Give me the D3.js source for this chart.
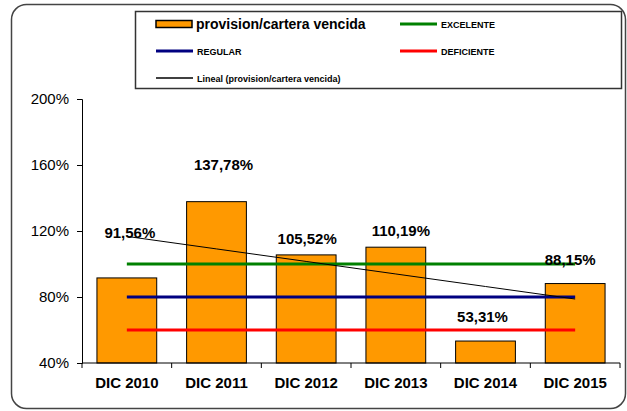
<!DOCTYPE html>
<html>
<head>
<meta charset="utf-8">
<script src="https://cdn.jsdelivr.net/npm/d3@7"></script>
<style>
  body { margin: 0; background: #fff; }
  svg { font-family: "Liberation Sans", Arial, sans-serif; }
</style>
</head>
<body>
<script>
// datos
const categories = ["DIC 2010", "DIC 2011", "DIC 2012", "DIC 2013", "DIC 2014", "DIC 2015"];
const provision = [91.56, 137.78, 105.52, 110.19, 53.31, 88.15];
const excelente = [100, 100, 100, 100, 100, 100];
const regular = [80, 80, 80, 80, 80, 80];
const deficiente = [60, 60, 60, 60, 60, 60];
const yTicks = [40, 80, 120, 160, 200];

// desplazamiento manual de las etiquetas (como en el grafico original)
const labelShift = [[3, -40], [7, -32], [1, -11], [5, -11], [-3, -19], [-5, -19]];

const width = 627;
const height = 411;
const margin = { top: 99, right: 7, bottom: 48, left: 82 };

const svg = d3.select("body").append("svg")
  .attr("width", width)
  .attr("height", height);

// marco exterior
svg.append("rect")
  .attr("x", 11.5).attr("y", 4.5)
  .attr("width", 614).attr("height", 404)
  .attr("rx", 15)
  .attr("fill", "none")
  .attr("stroke", "#444")
  .attr("stroke-width", 1.5);

const x = d3.scaleBand()
  .domain(categories)
  .range([margin.left, width - margin.right])
  .paddingInner(1 / 3)
  .paddingOuter(1 / 6);

const y = d3.scaleLinear()
  .domain([40, 200])
  .range([height - margin.bottom, margin.top]);

const g = svg.append("g");

// eje Y
g.append("g")
  .attr("transform", `translate(${margin.left},0)`)
  .call(d3.axisLeft(y).tickValues(yTicks).tickSize(5).tickPadding(8).tickFormat(d => d + "%"))
  .call(a => a.select(".domain").attr("stroke", "#000"))
  .call(a => a.selectAll("text").attr("font-size", 15).attr("fill", "#000").attr("font-family", "Liberation Sans, Arial"));

// barras
g.selectAll(".bar")
  .data(provision)
  .enter()
  .append("rect")
  .attr("class", "bar")
  .attr("x", (d, i) => x(categories[i]))
  .attr("y", d => y(d))
  .attr("width", x.bandwidth())
  .attr("height", d => y(40) - y(d))
  .attr("fill", "#FF9900")
  .attr("stroke", "#000")
  .attr("stroke-width", 1);

// eje X
const step = x.step();
const xAxis = g.append("g");
xAxis.append("line")
  .attr("x1", margin.left).attr("x2", width - margin.right)
  .attr("y1", y(40)).attr("y2", y(40))
  .attr("stroke", "#000");
xAxis.selectAll(".xtick")
  .data(d3.range(categories.length + 1))
  .enter()
  .append("line")
  .attr("x1", i => margin.left + i * step)
  .attr("x2", i => margin.left + i * step)
  .attr("y1", y(40)).attr("y2", y(40) + 5)
  .attr("stroke", "#000");
xAxis.selectAll(".xlab")
  .data(categories)
  .enter()
  .append("text")
  .attr("x", d => x(d) + x.bandwidth() / 2)
  .attr("y", y(40) + 25)
  .attr("text-anchor", "middle")
  .attr("font-size", 15)
  .attr("font-weight", "bold")
  .text(d => d);

// lineas de referencia
const cx = (d, i) => x(categories[i]) + x.bandwidth() / 2;
const line = d3.line().x(cx).y(d => y(d));
[[excelente, "#008000"], [regular, "#000080"], [deficiente, "#FF0000"]].forEach(([s, c]) => {
  g.append("path")
    .datum(s)
    .attr("d", line)
    .attr("fill", "none")
    .attr("stroke", c)
    .attr("stroke-width", 3);
});

// linea de tendencia (regresion lineal)
const xs = provision.map((d, i) => i + 1);
const mx = d3.mean(xs), my = d3.mean(provision);
const slope = d3.sum(xs, (v, i) => (v - mx) * (provision[i] - my)) / d3.sum(xs, v => (v - mx) ** 2);
const trend = xs.map(v => my + slope * (v - mx));
g.append("path")
  .datum(trend)
  .attr("d", line)
  .attr("fill", "none")
  .attr("stroke", "#000")
  .attr("stroke-width", 1);

// etiquetas de datos
g.selectAll(".lab")
  .data(provision)
  .enter()
  .append("text")
  .attr("x", (d, i) => cx(d, i) + labelShift[i][0])
  .attr("y", (d, i) => y(d) + labelShift[i][1])
  .attr("text-anchor", "middle")
  .attr("font-size", 15)
  .attr("font-weight", "bold")
  .text(d => d.toFixed(2).replace(".", ",") + "%");

// leyenda
const leg = svg.append("g");
leg.append("rect")
  .attr("x", 135.5).attr("y", 11.5)
  .attr("width", 486).attr("height", 77)
  .attr("fill", "#fff")
  .attr("stroke", "#333")
  .attr("stroke-width", 1.5);

leg.append("rect")
  .attr("x", 156).attr("y", 20.5)
  .attr("width", 36).attr("height", 7)
  .attr("fill", "#FF9900")
  .attr("stroke", "#000")
  .attr("stroke-width", 1.5);
leg.append("text")
  .attr("x", 196).attr("y", 29)
  .attr("font-size", 14).attr("font-weight", "bold")
  .text("provision/cartera vencida");

const legItems = [
  { x: 400, y: 24, color: "#008000", w: 3, label: "EXCELENTE" },
  { x: 156, y: 51, color: "#000080", w: 3, label: "REGULAR" },
  { x: 400, y: 51, color: "#FF0000", w: 3, label: "DEFICIENTE" },
  { x: 156, y: 78, color: "#000", w: 1.5, label: "Lineal (provision/cartera vencida)" }
];
legItems.forEach(it => {
  leg.append("line")
    .attr("x1", it.x).attr("x2", it.x + 37)
    .attr("y1", it.y).attr("y2", it.y)
    .attr("stroke", it.color)
    .attr("stroke-width", it.w);
  leg.append("text")
    .attr("x", it.x + 41).attr("y", it.y + 3.5)
    .attr("font-size", 9).attr("font-weight", "bold")
    .text(it.label);
});
</script>
</body>
</html>
